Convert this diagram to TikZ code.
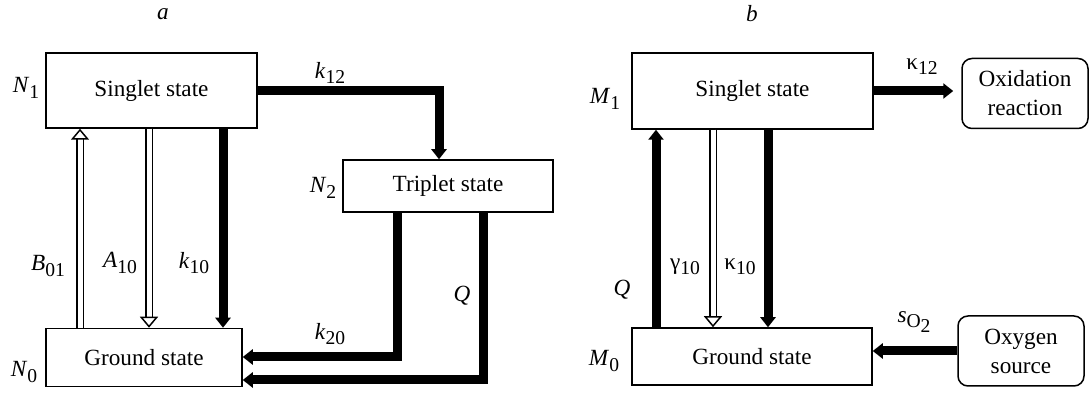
\documentclass[tikz,border=0pt]{standalone}
\usepackage{fontspec}
\setmainfont{Liberation Serif}
\usetikzlibrary{arrows.meta,positioning,calc}

\newcommand{\sbs}[1]{\raisebox{-0.5ex}{\fontsize{9.8}{10}\selectfont #1}}
\newcommand{\lvl}[2]{\textit{#1}\sbs{#2}}

\begin{document}
\begin{tikzpicture}[x=0.5pt, y=-0.5pt, font=\fontsize{11.6}{14.5}\selectfont,
  state/.style={draw, line width=0.75pt, inner sep=0pt},
  sink/.style={draw, line width=0.75pt, rounded corners=5pt, align=center, inner sep=0pt, minimum width=63pt, minimum height=35pt},
  flow/.style={line width=4.5pt, line join=miter, -{Triangle[length=5pt, width=7.5pt]}},
  hollow/.style={line width=0.75pt, double=white, double distance=2.5pt, -{Triangle[open, length=5.5pt, width=9pt]}}]
\useasboundingbox (0,0) rectangle (1089,395);

% panel a
\node at (163,14) {\textit{a}};
\node[state, minimum width=105.5pt, minimum height=37.5pt] (N1) at (151.5,90.5) {Singlet state};
\node[state, minimum width=98pt, minimum height=29pt] (N0) at (144,357.5) {Ground state};
\node[state, minimum width=105pt, minimum height=26pt] (N2) at (448,186) {Triplet state};
\node (lN1) at (26,88) {\lvl{N}{1}};
\node (lN0) at (24,372) {\lvl{N}{0}};
\node (lN2) at (323,188) {\lvl{N}{2}};

\coordinate (xB) at (80,0);
\coordinate (xA) at (149,0);
\coordinate (xk) at (223,0);
\coordinate (x12) at (439,0);
\coordinate (x20) at (397,0);
\coordinate (xQ) at (483,0);
\coordinate (y20) at (0,357);
\coordinate (yQ) at (0,380);

\draw[hollow] (N0.north -| xB) -- (N1.south -| xB);
\draw[hollow] (N1.south -| xA) -- (N0.north -| xA);
\draw[flow] (N1.south -| xk) -- (N0.north -| xk);
\draw[flow] (N1.east) -| (N2.north -| x12);
\draw[flow] (N2.south -| x20) |- (N0.east |- y20);
\draw[flow] (N2.south -| xQ) |- (N0.east |- yQ);

\node at (48,266) {\lvl{B}{01}};
\node at (120,263) {\lvl{A}{10}};
\node at (194,263) {\lvl{k}{10}};
\node at (330,73) {\lvl{k}{12}};
\node at (330,334) {\lvl{k}{20}};
\node at (462,296) {\textit{Q}};

% panel b
\node at (752,14) {\textit{b}};
\node[state, minimum width=120.5pt, minimum height=38pt] (M1) at (752.5,91) {Singlet state};
\node[state, minimum width=120pt, minimum height=28.5pt] (M0) at (752,356.5) {Ground state};
\node[sink] (ox) at (1025,93.5) {Oxidation\\reaction};
\node[sink] (src) at (1021,351) {Oxygen\\source};
\node (lM1) at (605,99) {\lvl{M}{1}};
\node (lM0) at (604,361) {\lvl{M}{0}};

\coordinate (xQb) at (656,0);
\coordinate (xg) at (713,0);
\coordinate (xkb) at (768,0);

\draw[flow] (M0.north -| xQb) -- (M1.south -| xQb);
\draw[hollow] (M1.south -| xg) -- (M0.north -| xg);
\draw[flow] (M1.south -| xkb) -- (M0.north -| xkb);
\draw[flow, shorten >=4pt] (M1.east) -- (ox.west |- M1.east);
\draw[flow] (src.west) -- (M0.east |- src.west);

\node at (622,290) {\textit{Q}};
\node at (685,267) {γ\sbs{10}};
\node at (740,267) {κ\sbs{10}};
\node at (922,67) {κ\sbs{12}};
\node at (914,322) {\textit{s}\sbs{O\sbs{2}}};
\end{tikzpicture}
\end{document}
